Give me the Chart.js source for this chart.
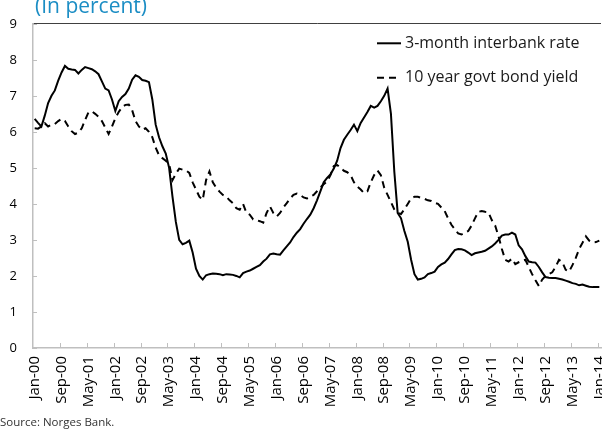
<!DOCTYPE html>
<html><head><meta charset="utf-8">
<script src="https://cdn.jsdelivr.net/npm/chart.js@4.4.1/dist/chart.umd.min.js"></script>
<style>
html,body{margin:0;padding:0;background:#fff;overflow:hidden;}
#wrap{position:relative;width:612px;height:431px;}
</style></head><body>
<div id="wrap"><canvas id="c"></canvas></div>
<script>
const monthNames = ['Jan','Feb','Mar','Apr','May','Jun','Jul','Aug','Sep','Oct','Nov','Dec'];
const startYear = 2000;
const monthCount = 169;
const categories = [];
for (let i = 0; i < monthCount; i++) {
  const yy = (startYear + Math.floor(i / 12)) % 100;
  categories.push(monthNames[i % 12] + '-' + String(yy).padStart(2, '0'));
}
const labelEvery = 8;
const yTicks = [0,1,2,3,4,5,6,7,8,9];
const seriesNames = ['3-month interbank rate', '10 year govt bond yield'];
const titleText = '(In percent)';
const sourceText = 'Source: Norges Bank.';

const interbank3m = [
  6.36, 6.25, 6.15, 6.45, 6.8, 7.0, 7.15, 7.42, 7.65, 7.83,
  7.75, 7.73, 7.72, 7.62, 7.72, 7.8, 7.77, 7.74, 7.68, 7.6,
  7.4, 7.2, 7.15, 6.9, 6.58, 6.85, 6.97, 7.05, 7.2, 7.45,
  7.57, 7.53, 7.44, 7.42, 7.38, 6.9, 6.2, 5.85, 5.6, 5.4,
  5.0, 4.2, 3.5, 3.0, 2.88, 2.92, 2.98, 2.65, 2.2, 2.0,
  1.9, 2.02, 2.05, 2.07, 2.06, 2.05, 2.02, 2.05, 2.04, 2.03,
  2.0, 1.96, 2.08, 2.12, 2.15, 2.2, 2.25, 2.3, 2.4, 2.48,
  2.6, 2.62, 2.6, 2.59, 2.71, 2.82, 2.93, 3.08, 3.2, 3.3,
  3.45, 3.58, 3.7, 3.88, 4.1, 4.35, 4.6, 4.72, 4.82, 4.98,
  5.2, 5.55, 5.78, 5.92, 6.05, 6.2, 6.02, 6.25, 6.4, 6.55,
  6.72, 6.67, 6.72, 6.85, 7.0, 7.2, 6.5, 4.9, 3.75, 3.6,
  3.25, 2.95, 2.45, 2.05, 1.9, 1.92, 1.96, 2.05, 2.08, 2.12,
  2.25, 2.32, 2.37, 2.47, 2.6, 2.72, 2.75, 2.74, 2.71, 2.65,
  2.58, 2.63, 2.65, 2.67, 2.7, 2.76, 2.82, 2.9, 3.0, 3.12,
  3.15, 3.15, 3.2, 3.15, 2.85, 2.74, 2.55, 2.4, 2.38, 2.37,
  2.25, 2.1, 1.97, 1.95, 1.94, 1.94, 1.92, 1.9, 1.87, 1.84,
  1.8, 1.78, 1.74, 1.76, 1.73, 1.7, 1.69, 1.69, 1.69
];

const govtBond10y = [
  6.1, 6.09, 6.15, 6.24, 6.15, 6.2, 6.22, 6.3, 6.36, 6.3,
  6.15, 6.02, 5.94, 5.98, 6.1, 6.33, 6.54, 6.57, 6.5, 6.42,
  6.3, 6.12, 5.94, 6.15, 6.38, 6.55, 6.69, 6.75, 6.76, 6.6,
  6.3, 6.15, 6.06, 6.1, 6.0, 5.85, 5.56, 5.35, 5.27, 5.2,
  5.11, 4.66, 4.84, 4.98, 4.95, 4.93, 4.86, 4.6, 4.4, 4.2,
  4.11, 4.66, 4.9, 4.6, 4.45, 4.34, 4.25, 4.2, 4.1, 4.02,
  3.88, 3.84, 4.0, 3.75, 3.7, 3.57, 3.55, 3.52, 3.48, 3.75,
  3.93, 3.75, 3.65, 3.75, 3.9, 4.02, 4.15, 4.25, 4.29, 4.25,
  4.18, 4.15, 4.2, 4.25, 4.35, 4.45, 4.55, 4.62, 4.8, 5.05,
  5.08, 5.0, 4.92, 4.88, 4.8, 4.6, 4.48, 4.4, 4.3, 4.35,
  4.6, 4.8, 4.93, 4.8, 4.45, 4.25, 4.05, 3.85, 3.75, 3.72,
  3.85, 4.0, 4.15, 4.2, 4.2, 4.17, 4.14, 4.1, 4.08, 4.03,
  4.0, 3.9, 3.8, 3.6, 3.42, 3.3, 3.18, 3.15, 3.2, 3.25,
  3.4, 3.6, 3.78, 3.8, 3.78, 3.77, 3.55, 3.4, 3.1, 2.75,
  2.45, 2.4, 2.48, 2.33, 2.38, 2.42, 2.45, 2.25, 2.05, 1.88,
  1.72, 1.9, 2.0, 2.05, 2.1, 2.25, 2.45, 2.38, 2.17, 2.12,
  2.3, 2.5, 2.75, 2.92, 3.1, 2.98, 2.93, 2.94, 2.98
];

const FONT = "'Open Sans', 'Noto Sans', sans-serif";
const DASH = [7, 5];

const decor = {
  id: 'decor',
  afterDraw(chart) {
    const {ctx, chartArea: a, scales: {x, y}} = chart;
    ctx.save();
    // inward tick marks
    ctx.strokeStyle = '#bfbfbf';
    ctx.lineWidth = 1;
    ctx.beginPath();
    yTicks.forEach(v => {
      const py = Math.round(y.getPixelForValue(v)) + 0.5;
      ctx.moveTo(a.left, py); ctx.lineTo(a.left + 4, py);
    });
    const half = (x.getPixelForValue(1) - x.getPixelForValue(0)) / 2;
    for (let i = labelEvery; i < categories.length; i += labelEvery) {
      const px = Math.round(x.getPixelForValue(i) - half) + 0.5;
      ctx.moveTo(px, a.bottom); ctx.lineTo(px, a.bottom - 5);
    }
    ctx.stroke();

    // legend
    const lx0 = a.right - 224, lx1 = a.right - 200, tx = a.right - 196;
    const ly = [a.top + 19.5, a.top + 54];
    ctx.strokeStyle = '#000';
    ctx.lineWidth = 2;
    ctx.setLineDash([]);
    ctx.beginPath(); ctx.moveTo(lx0, ly[0]); ctx.lineTo(lx1, ly[0]); ctx.stroke();
    ctx.setLineDash(DASH);
    ctx.beginPath(); ctx.moveTo(lx0, ly[1]); ctx.lineTo(lx1, ly[1]); ctx.stroke();
    ctx.setLineDash([]);
    ctx.fillStyle = '#1a1a1a';
    ctx.font = '16px ' + FONT;
    ctx.textBaseline = 'middle';
    ctx.textAlign = 'left';
    ctx.fillText(seriesNames[0], tx, ly[0]);
    ctx.fillText(seriesNames[1], tx, ly[1]);

    // title (cut at top)
    ctx.fillStyle = '#1b8dc4';
    ctx.font = '21px ' + FONT;
    ctx.textBaseline = 'alphabetic';
    ctx.fillText(titleText, 35, 13);

    // source
    ctx.fillStyle = '#333';
    ctx.font = '11.5px ' + FONT;
    ctx.fillText(sourceText, 0, 426);
    ctx.restore();
  }
};

new Chart(document.getElementById('c'), {
  type: 'line',
  data: {
    labels: categories,
    datasets: [
      {label: seriesNames[0], data: interbank3m, borderColor: '#000', borderWidth: 2, pointRadius: 0, tension: 0, fill: false},
      {label: seriesNames[1], data: govtBond10y, borderColor: '#000', borderWidth: 2, borderDash: DASH, pointRadius: 0, tension: 0, fill: false}
    ]
  },
  options: {
    responsive: true,
    maintainAspectRatio: false,
    animation: false,
    devicePixelRatio: 1,
    layout: {padding: {top: 17, right: 11, left: 0, bottom: 0}},
    plugins: {legend: {display: false}, tooltip: {enabled: false}, title: {display: false}},
    scales: {
      x: {
        type: 'category',
        offset: true,
        grid: {display: false, drawTicks: false},
        border: {display: true, color: '#bfbfbf', width: 1.5},
        ticks: {
          autoSkip: false, minRotation: 90, maxRotation: 90, padding: 8,
          color: '#000', font: {family: FONT, size: 15},
          callback: (v, i) => (i % labelEvery === 0 ? categories[i] : '')
        },
        afterFit: s => { s.height = 83; s.paddingLeft = 0; s.paddingRight = 0; }
      },
      y: {
        min: 0, max: 9,
        ticks: {stepSize: 1, padding: 16, color: '#000', font: {family: FONT, size: 13}},
        grid: {drawTicks: false, lineWidth: 1, color: c => (c.tick && c.tick.value === 9 ? '#404040' : 'rgba(0,0,0,0)')},
        border: {display: true, color: '#bfbfbf', width: 1.5},
        afterFit: s => { s.width = 33; }
      }
    }
  },
  plugins: [decor]
});
</script>
</body></html>
